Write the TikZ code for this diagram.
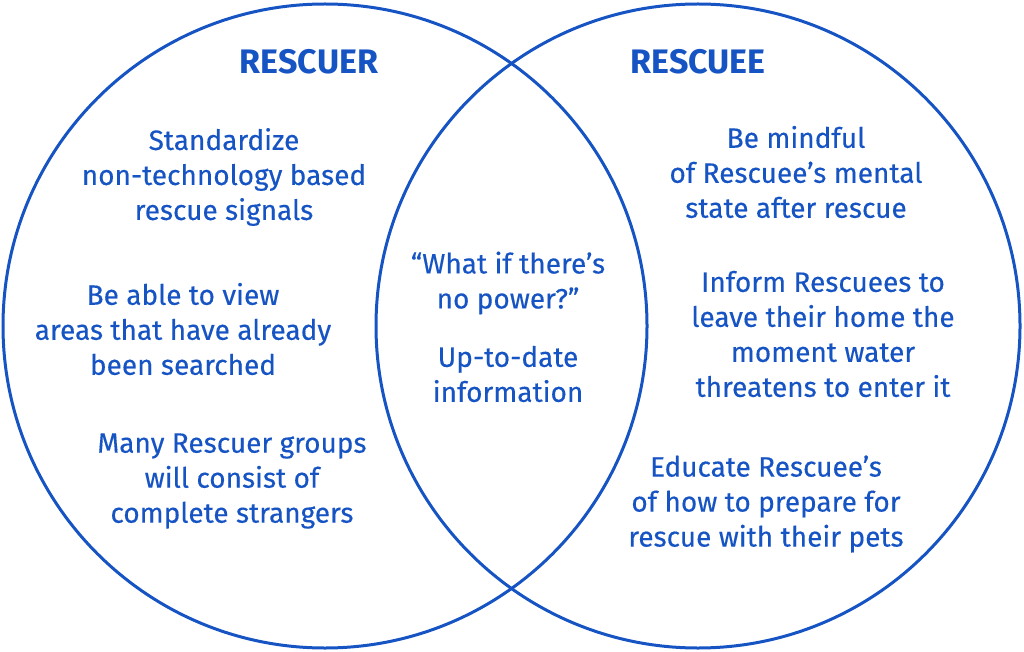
\documentclass[tikz,border=0pt]{standalone}
\usepackage{fontspec}
\setmainfont{Fira Sans}
\newfontfamily\medfont{Fira Sans}[FakeBold=0.3]
\definecolor{vblue}{RGB}{22,84,196}
\begin{document}
\begin{tikzpicture}[x=1pt,y=-1pt,
  ring/.style={draw=vblue,line width=3pt},
  head/.style={text=vblue,font=\fontsize{34}{40}\selectfont\bfseries,anchor=center},
  item/.style={text=vblue,font=\medfont\fontsize{28}{35}\selectfont,align=center,anchor=center,inner sep=0pt}]
\useasboundingbox (0,0) rectangle (1024,652);
\node[ring,circle,minimum size=644pt,inner sep=0pt] (left) at (325,326) {};
\node[ring,circle,minimum size=644pt,inner sep=0pt] (right) at (698,326) {};
\node[head] (hl) at (309,62) {RESCUER};
\node[head] (hr) at (698,62) {RESCUEE};
\node[item] (l1) at (224,177) {Standardize\\non-technology based\\rescue signals};
\node[item] (l2) at (183,329) {Be able to view\\areas that have already\\been searched};
\node[item] (l3) at (232,481) {Many Rescuer groups\\will consist of\\complete strangers};
\node[item] (c1) at (508,283) {“What if there’s\\no power?”};
\node[item] (c2) at (508,374) {Up-to-date\\information};
\node[item] (r1) at (796,172) {Be mindful\\of Rescuee’s mental\\state after rescue};
\node[item] (r2) at (823,334) {Inform Rescuees to\\leave their home the\\moment water\\threatens to enter it};
\node[item] (r3) at (766,504) {Educate Rescuee’s\\of how to prepare for\\rescue with their pets};
\end{tikzpicture}
\end{document}
